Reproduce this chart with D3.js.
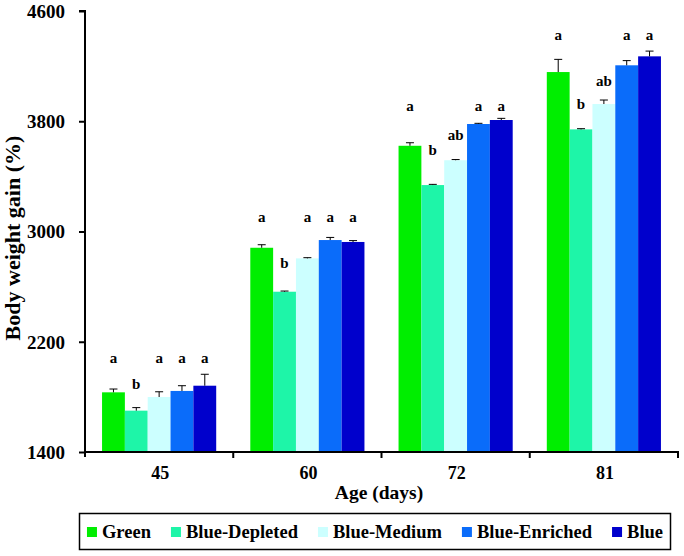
<!DOCTYPE html>
<html><head><meta charset="utf-8">
<script src="https://cdn.jsdelivr.net/npm/d3@7"></script>
<style>body{margin:0;background:#fff}svg{display:block}text{font-family:"Liberation Serif","DejaVu Serif","Noto Serif",serif;font-weight:bold;fill:#000}</style>
</head><body><svg id="c" width="684" height="556"></svg>
<script>
const ages = ["45", "60", "72", "81"];
const seriesNames = ["Green", "Blue-Depleted", "Blue-Medium", "Blue-Enriched", "Blue"];
const seriesColors = ["#00ee00", "#1ef5a8", "#ccffff", "#0a6cfa", "#0000cc"];
// values per series, across ages
const green      = [1833, 2882, 3622, 4157];
const blueDepl   = [1700, 2563, 3337, 3741];
const blueMed    = [1799, 2805, 3517, 3925];
const blueEnr    = [1843, 2938, 3780, 4206];
const blue       = [1881, 2924, 3809, 4271];
// error (SE) per series
const greenErr    = [24, 22, 22, 92];
const blueDeplErr = [22, 5, 5, 5];
const blueMedErr  = [38, 5, 5, 29];
const blueEnrErr  = [38, 19, 5, 34];
const blueErr     = [83, 10, 12, 38];
// significance letters per series, across ages
const greenLet    = ["a", "a", "a", "a"];
const blueDeplLet = ["b", "b", "b", "b"];
const blueMedLet  = ["a", "a", "ab", "ab"];
const blueEnrLet  = ["a", "a", "a", "a"];
const blueLet     = ["a", "a", "a", "a"];
// letter heights (value units) per series, across ages
const greenLetV    = [2075, 3100, 3905, 4418];
const blueDeplLetV = [1886, 2764, 3586, 3918];
const blueMedLetV  = [2075, 3100, 3693, 4087];
const blueEnrLetV  = [2075, 3100, 3905, 4418];
const blueLetV     = [2075, 3100, 3905, 4418];
const yTicks = [1400, 2200, 3000, 3800, 4600];

const vals = [green, blueDepl, blueMed, blueEnr, blue];
const errs = [greenErr, blueDeplErr, blueMedErr, blueEnrErr, blueErr];
const lets = [greenLet, blueDeplLet, blueMedLet, blueEnrLet, blueLet];
const letV = [greenLetV, blueDeplLetV, blueMedLetV, blueEnrLetV, blueLetV];

const rows = [];
ages.forEach((a, i) => seriesNames.forEach((s, j) => rows.push({age: a, s, j, v: vals[j][i], e: errs[j][i], l: lets[j][i], lv: letV[j][i]})));

const svg = d3.select("#c");
const pL = 85, pR = 678, pT = 11, pB = 452;
const y = d3.scaleLinear().domain([1400, 4600]).range([pB, pT]);
const x0 = d3.scaleBand().domain(ages).range([pL, pR]).paddingInner(0.23).paddingOuter(0.115);
const x1 = d3.scaleBand().domain(seriesNames).range([0, x0.bandwidth()]);
const color = d3.scaleOrdinal().domain(seriesNames).range(seriesColors);

const g = svg.append("g");
g.selectAll("rect.bar").data(rows).join("rect").attr("class", "bar")
  .attr("x", d => x0(d.age) + x1(d.s)).attr("width", x1.bandwidth())
  .attr("y", d => y(d.v)).attr("height", d => y(1400) - y(d.v))
  .attr("fill", d => color(d.s));

// error bars
const cxOf = d => x0(d.age) + x1(d.s) + x1.bandwidth() / 2;
const eb = g.selectAll("g.eb").data(rows).join("g").attr("class", "eb");
eb.append("line").attr("x1", cxOf).attr("x2", cxOf)
  .attr("y1", d => y(d.v)).attr("y2", d => y(d.v + d.e)).attr("stroke", "#000").attr("stroke-width", 1);
eb.append("line").attr("x1", d => cxOf(d) - 4).attr("x2", d => cxOf(d) + 4)
  .attr("y1", d => y(d.v + d.e)).attr("y2", d => y(d.v + d.e)).attr("stroke", "#000").attr("stroke-width", 1);

// letters
g.selectAll("text.let").data(rows).join("text").attr("class", "let")
  .attr("x", cxOf).attr("y", d => y(d.lv) + 4)
  .attr("text-anchor", "middle").style("font-size", "15px").text(d => d.l);

// y axis
const yAxis = d3.axisLeft(y).tickValues(yTicks).tickSize(6).tickPadding(14).tickFormat(d3.format("d"));
const ya = svg.append("g").attr("transform", `translate(${pL},0)`).call(yAxis);
ya.attr("font-family", null).attr("font-size", null);
ya.select(".domain").attr("stroke", "#000").attr("stroke-width", 2).attr("d", `M-6,${pT}H0V${pB + 5}`);
ya.selectAll(".tick line").attr("stroke", "#000").attr("stroke-width", 2);
ya.selectAll(".tick text").style("font-size", "19px").attr("fill", "#000").attr("dy", "0.34em");

// x axis
const xa = svg.append("g").attr("transform", `translate(0,${pB})`);
xa.append("line").attr("x1", pL - 1).attr("x2", pR + 1).attr("y1", 0).attr("y2", 0).attr("stroke", "#000").attr("stroke-width", 2);
const bounds = ages.map(a => x0(a) - x0.step() * 0.115 + x0.step());
xa.selectAll("line.tk").data(bounds).join("line").attr("class", "tk").attr("x1", d => d).attr("x2", d => d).attr("y1", 0).attr("y2", 6).attr("stroke", "#000").attr("stroke-width", 2);
xa.selectAll("text.xl").data(ages).join("text").attr("class", "xl")
  .attr("x", d => x0(d) + x0.bandwidth()/2 + 1).attr("y", 27).attr("text-anchor", "middle").style("font-size", "18px").text(d => d);

// titles
svg.append("text").attr("x", 379).attr("y", 499).attr("text-anchor", "middle").style("font-size", "19.5px").text("Age (days)");
svg.append("text").attr("transform", "translate(20,238) rotate(-90)").attr("text-anchor", "middle").style("font-size", "22px").text("Body weight gain (%)");

// legend
const lg = svg.append("g");
lg.append("rect").attr("x", 79.5).attr("y", 513.5).attr("width", 591).attr("height", 36).attr("fill", "#fff").attr("stroke", "#000").attr("stroke-width", 1.5);
const items = lg.selectAll("g.li").data(seriesNames).join("g").attr("class", "li");
items.append("rect").attr("width", 10).attr("height", 10).attr("y", 527).attr("fill", d => color(d));
items.append("text").attr("x", 15).attr("y", 538).style("font-size", "18.5px").text(d => d);
let widths = [];
items.each(function () { widths.push(15 + d3.select(this).select("text").node().getComputedTextLength()); });
const gap = 20;
const total = d3.sum(widths) + gap * (widths.length - 1);
let lx = 375 - total / 2;
items.each(function (d, i) {
  d3.select(this).attr("transform", `translate(${lx},0)`);
  lx += widths[i] + gap;
});
</script></body></html>
